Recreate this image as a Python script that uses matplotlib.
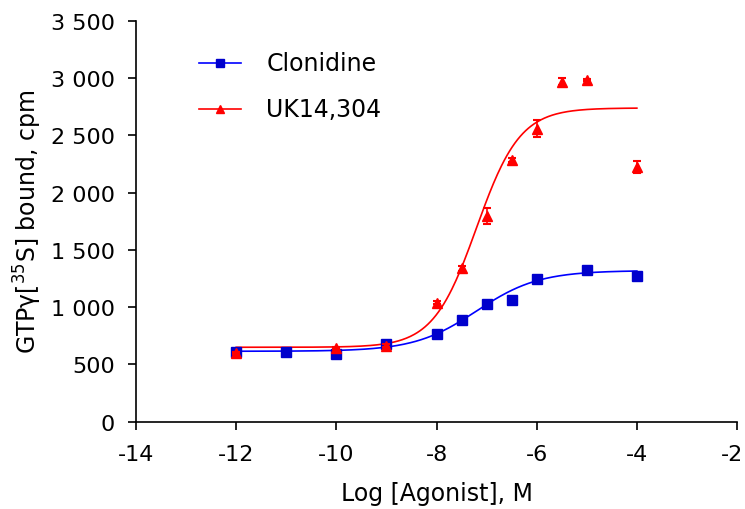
import numpy as np
import matplotlib.pyplot as plt
import matplotlib.transforms as mtransforms
from matplotlib.ticker import FuncFormatter

# log agonist concentrations (M) and mean GTPgS binding (cpm)
clon_x = [-12, -11, -10, -9, -8, -7.5, -7, -6.5, -6, -5, -4]
clon_y = [605, 605, 590, 680, 765, 890, 1030, 1065, 1250, 1325, 1275]

uk_x = [-12, -10, -9, -8, -7.5, -7, -6.5, -6, -5.5, -5, -4]
uk_y = [600, 645, 665, 1040, 1340, 1800, 2285, 2560, 2970, 2985, 2225]
uk_err = [10, 10, 10, 10, 20, 70, 20, 75, 30, 10, 50]

# sigmoid fit parameters: bottom, top, logEC50, hill slope
clon_fit = [615, 1320, -7.2, 0.7]
uk_fit = [650, 2740, -7.2, 1.0]


def sigmoid(x, p):
    bottom, top, logec50, hill = p
    return bottom + (top - bottom) / (1 + 10 ** ((logec50 - x) * hill))


plt.rcParams['font.family'] = ['DejaVu Sans']
plt.rcParams['font.size'] = 16
plt.rcParams['axes.unicode_minus'] = False
plt.rcParams['mathtext.default'] = 'regular'

fig = plt.figure(figsize=(7.45, 5.10), dpi=100)
ax = fig.add_axes([0.1826, 0.1712, 0.8067, 0.7857])

xs = np.linspace(-12, -4, 300)
ax.plot(xs, sigmoid(xs, clon_fit), color='#0000ff', lw=1.2)
ax.plot(xs, sigmoid(xs, uk_fit), color='#ff0000', lw=1.2)

ax.plot(clon_x, clon_y, 's', color='#0000cc', ms=6.5, ls='none')
ax.errorbar(uk_x, uk_y, yerr=uk_err, fmt='^', color='#ff0000', ms=6.5,
            capsize=3, elinewidth=1.2, capthick=1.5)

# legend drawn by hand to match the original layout
ax.plot([-12.74, -11.9], [3130, 3130], color='#0000ff', lw=1.2)
ax.plot([-12.32], [3130], 's', color='#0000cc', ms=6)
ax.text(-11.4, 3130, 'Clonidine', va='center', fontsize=17)
ax.plot([-12.74, -11.9], [2730, 2730], color='#ff0000', lw=1.2)
ax.plot([-12.32], [2730], '^', color='#ff0000', ms=6)
ax.text(-11.4, 2730, 'UK14,304', va='center', fontsize=17)

ax.set_xlim(-14, -2)
ax.set_ylim(0, 3500)
ax.set_xticks(range(-14, -1, 2))
ax.set_yticks(range(0, 3501, 500))
ax.yaxis.set_major_formatter(FuncFormatter(lambda v, pos: f'{int(v):,}'.replace(',', ' ')))
ax.spines['top'].set_visible(False)
ax.spines['right'].set_visible(False)
ax.tick_params(direction='out', length=6, width=1.2, labelsize=16)
ax.tick_params(axis='x', pad=10)
ax.tick_params(axis='y', pad=9)
for s in ['left', 'bottom']:
    ax.spines[s].set_linewidth(1.2)

# the last x label sits right at the figure edge; nudge it in a little
last = ax.get_xticklabels()[-1]
last.set_transform(last.get_transform() + mtransforms.ScaledTranslation(-5 / 100, 0, fig.dpi_scale_trans))

ax.set_xlabel('Log [Agonist], M', fontsize=17)
ax.set_ylabel('GTPγ[$^{35}$S] bound, cpm', fontsize=17)
ax.xaxis.set_label_coords(0.5, -0.148)
ax.yaxis.set_label_coords(-0.153, 0.5)

fig.savefig('out.png', dpi=100)
